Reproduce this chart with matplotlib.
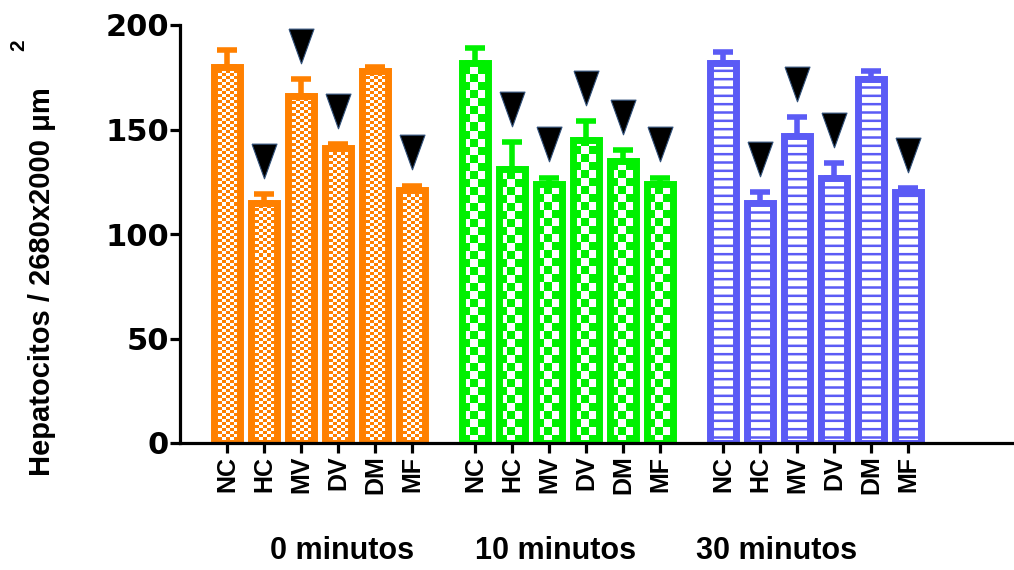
import numpy as np
import matplotlib.pyplot as plt
import matplotlib.transforms as mtransforms

categorias = ['NC', 'HC', 'MV', 'DV', 'DM', 'MF']
tempos = ['0 minutos', '10 minutos', '30 minutos']

media_0 = [180, 115, 166, 141, 178, 121]
sem_0 = [8, 4, 8, 2, 2, 2]
media_10 = [182, 131, 124, 145, 135, 124]
sem_10 = [7, 13, 3, 9, 5, 3]
media_30 = [182, 115, 147, 127, 174, 120]
sem_30 = [5, 5, 9, 7, 4, 2]

# diferença significativa em relação ao NC
sig_0 = [False, True, True, True, False, True]
sig_10 = [False, True, True, True, True, True]
sig_30 = [False, True, True, True, False, True]

cores = ['#FF8000', '#00F000', '#5B5BF5']
medias = [media_0, media_10, media_30]
sems = [sem_0, sem_10, sem_30]
sigs = [sig_0, sig_10, sig_30]

largura = 0.7
desloc = 6.7

fig = plt.figure(figsize=(10.14, 5.70), dpi=100)
ax = fig.add_axes([180 / 1014, 127 / 570, 832 / 1014, 418 / 570])
ax.set_xlim(-1.27, 21.2)
ax.set_ylim(0, 200)

p0 = ax.transData.transform((0, 0))
p1 = ax.transData.transform((1, 1))
px_x = p1[0] - p0[0]
px_y = p1[1] - p0[1]


def xadrez(ax, barra, cor, cel_w, cel_h):
    x0 = barra.get_x()
    w = barra.get_width()
    h = barra.get_height()
    nx = int(np.ceil(w * px_x / cel_w)) + 1
    ny = int(np.ceil(h * px_y / cel_h)) + 1
    ii, jj = np.mgrid[0:ny, 0:nx]
    padrao = (ii + jj) % 2
    rgb = np.array(plt.matplotlib.colors.to_rgb(cor))
    img = np.where(padrao[..., None] == 0, rgb, np.ones(3))
    im = ax.imshow(img, origin='lower', interpolation='nearest', aspect='auto',
                   extent=[x0, x0 + nx * cel_w / px_x, 0, ny * cel_h / px_y],
                   zorder=1)
    im.set_clip_path(barra)


plt.rcParams['hatch.linewidth'] = 1.8
todas_x = []
marca = np.array([(-0.72, 1), (0.72, 1), (0, -1), (-0.72, 1)])

for g in range(3):
    x = np.arange(len(categorias)) + g * desloc
    todas_x += list(x)
    cor = cores[g]
    if g == 2:
        barras = ax.bar(x, medias[g], width=largura, color='white', edgecolor=cor,
                        linewidth=5, hatch='--', zorder=2)
    else:
        barras = ax.bar(x, medias[g], width=largura, color='none', edgecolor=cor,
                        linewidth=5, zorder=2)
        for b in barras:
            if g == 0:
                xadrez(ax, b, cor, 4, 3)
            else:
                xadrez(ax, b, cor, 8, 8)
    ax.errorbar(x, medias[g], yerr=[np.zeros(6), sems[g]], fmt='none', ecolor=cor,
                elinewidth=4, capsize=7, capthick=4, zorder=3)
    topo = np.array(medias[g]) + np.array(sems[g])
    s = np.array(sigs[g])
    ax.plot(x[s], topo[s] + 16, linestyle='none', marker=marca, markersize=25,
            color='black', markeredgecolor='#30507a', markeredgewidth=0.8, zorder=4)

ax.set_xlim(-1.27, 21.2)
ax.set_ylim(0, 200)

for lado in ['top', 'right']:
    ax.spines[lado].set_visible(False)
for lado in ['left', 'bottom']:
    ax.spines[lado].set_linewidth(2.3)

ax.set_yticks([0, 50, 100, 150, 200])
ax.tick_params(axis='y', direction='out', length=7, width=2.3, pad=1)
for t in ax.get_yticklabels():
    t.set_fontfamily('DejaVu Sans')
    t.set_fontweight('bold')
    t.set_fontsize(22)

ax.set_xticks(todas_x)
ax.set_xticklabels(categorias * 3, rotation=90, fontsize=18, fontweight='bold',
                   family='Liberation Sans')
ax.tick_params(axis='x', direction='out', length=7, width=2.3, pad=2)

fig.text(42 / 1014, 1 - 282 / 570, 'Hepatocitos / 2680x2000 μm', rotation=90,
         ha='center', va='center', fontsize=21, fontweight='bold', family='Liberation Sans')
fig.text(19 / 1014, 1 - 45 / 570, '2', rotation=90, ha='center', va='center', fontsize=15,
         fontweight='bold', family='Liberation Sans')

trans = mtransforms.blended_transform_factory(ax.transData, fig.transFigure)
pos_rotulo = [3.12, 8.86, 14.84]
for px, nome in zip(pos_rotulo, tempos):
    ax.text(px, 1 - 551 / 570, nome, transform=trans, ha='center', va='center',
            fontsize=22, fontweight='bold', family='Liberation Sans')

fig.savefig('out.png', dpi=100)
